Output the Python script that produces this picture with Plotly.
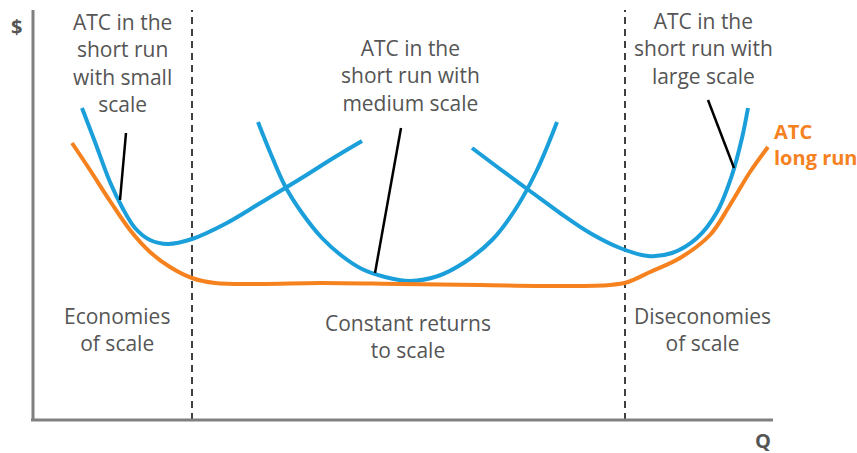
import plotly.graph_objects as go

H = 453
lr_q = [72, 90, 110, 130, 150, 170, 192, 215, 260, 320, 400, 480, 560, 610, 628, 650, 680, 710, 730, 750, 768]
lr_c = [H - v for v in [143, 170, 201, 230, 252, 267, 278, 283, 284, 283, 284, 285, 286, 285, 282, 272, 258, 235, 205, 172, 147]]

small_q = [82, 95, 110, 122, 135, 150, 168, 192, 225, 262, 300, 335, 362]
small_c = [H - v for v in [108, 142, 182, 207, 228, 240, 244, 239, 224, 202, 179, 157, 141]]

med_q = [258, 270, 285, 302, 322, 342, 362, 385, 410, 438, 465, 492, 515, 537, 557]
med_c = [H - v for v in [122, 152, 186, 213, 238, 256, 269, 277, 281, 276, 262, 240, 210, 170, 122]]

large_q = [472, 500, 530, 560, 590, 620, 648, 672, 697, 717, 732, 742, 748]
large_c = [H - v for v in [148, 169, 191, 213, 233, 248, 256, 253, 238, 212, 175, 138, 108]]

pointer_small = ([126, 120], [H - 133, H - 200])
pointer_med = ([401, 375], [H - 128, H - 273])
pointer_large = ([708, 734], [H - 100, H - 168])

boundaries = [192, 625]
axis_origin = (33, H - 420)
axis_end_q = 773
axis_top_c = H - 10

BLUE = "#1A9FDB"
ORANGE = "#F5821F"
GREY = "#555555"
FONT = "Open Sans"

fig = go.Figure()
for q, c in [(small_q, small_c), (med_q, med_c), (large_q, large_c)]:
    fig.add_trace(go.Scatter(x=q, y=c, mode="lines", line=dict(color=BLUE, width=4, shape="spline", smoothing=1.0),
                             hoverinfo="skip", showlegend=False))
fig.add_trace(go.Scatter(x=lr_q, y=lr_c, mode="lines", line=dict(color=ORANGE, width=4, shape="spline", smoothing=1.0),
                         hoverinfo="skip", showlegend=False))
for px, py in [pointer_small, pointer_med, pointer_large]:
    fig.add_trace(go.Scatter(x=px, y=py, mode="lines", line=dict(color="black", width=2.5),
                             hoverinfo="skip", showlegend=False))

shapes = []
for b in boundaries:
    shapes.append(dict(type="line", x0=b, x1=b, y0=axis_origin[1], y1=axis_top_c,
                       line=dict(color="#404040", width=2, dash="7px,5px"), layer="below"))
shapes.append(dict(type="line", x0=axis_origin[0], x1=axis_origin[0], y0=axis_origin[1], y1=axis_top_c,
                   line=dict(color="#808080", width=3)))
shapes.append(dict(type="line", x0=axis_origin[0] - 2, x1=axis_end_q, y0=axis_origin[1], y1=axis_origin[1],
                   line=dict(color="#808080", width=3)))

def ann(x, y, text, color=GREY, size=21, align="center", xanchor="center", bold=False):
    if bold:
        text = "<b>" + text.replace("<br>", "</b><br><b>") + "</b>"
    return dict(x=x, y=H - y, text=text, showarrow=False, xanchor=xanchor, yanchor="middle", align=align,
                font=dict(family=FONT, size=size, color=color))

annotations = [
    ann(122, 63, "ATC in the<br>short run<br>with small<br>scale"),
    ann(410, 75, "ATC in the<br>short run with<br>medium scale"),
    ann(703, 48, "ATC in the<br>short run with<br>large scale"),
    ann(772, 144, "ATC<br>long run", color=ORANGE, xanchor="left", align="left", bold=True, size=20),
    ann(117, 329, "Economies<br>of scale"),
    ann(408, 336, "Constant returns<br>to scale"),
    ann(702, 329, "Diseconomies<br>of scale"),
    ann(16, 26, "$", bold=True, size=20),
    ann(763, 440, "Q", bold=True, size=20),
]

fig.update_layout(
    width=857, height=453, margin=dict(l=0, r=0, t=0, b=0),
    paper_bgcolor="white", plot_bgcolor="white",
    xaxis=dict(range=[0, 857], visible=False, fixedrange=True),
    yaxis=dict(range=[0, H], visible=False, fixedrange=True),
    shapes=shapes, annotations=annotations,
)
fig.write_html("out.html")
